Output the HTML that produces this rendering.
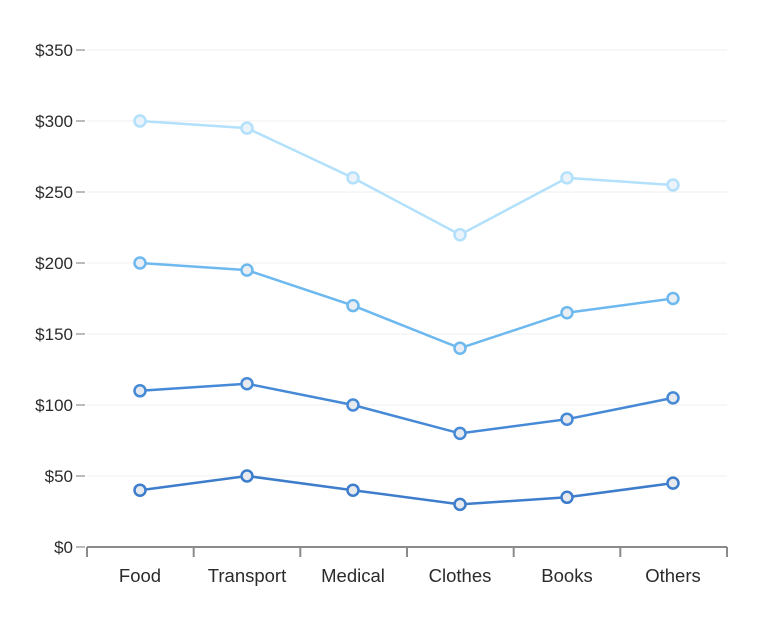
<!DOCTYPE html>
<html><head><meta charset="utf-8"><style>
html,body{margin:0;padding:0;background:#fff;}
svg text{font-family:"Liberation Sans",sans-serif;fill:#2b2b2b;}
</style></head><body>
<svg width="760" height="626" viewBox="0 0 760 626" xmlns="http://www.w3.org/2000/svg">
<g stroke="#efefef" stroke-width="1">
<line x1="87" y1="50" x2="727" y2="50"/>
<line x1="87" y1="121" x2="727" y2="121"/>
<line x1="87" y1="192" x2="727" y2="192"/>
<line x1="87" y1="263" x2="727" y2="263"/>
<line x1="87" y1="334" x2="727" y2="334"/>
<line x1="87" y1="405" x2="727" y2="405"/>
<line x1="87" y1="476" x2="727" y2="476"/>
</g>
<g stroke="#777" stroke-width="1">
<line x1="76" y1="50" x2="85" y2="50"/>
<line x1="76" y1="121" x2="85" y2="121"/>
<line x1="76" y1="192" x2="85" y2="192"/>
<line x1="76" y1="263" x2="85" y2="263"/>
<line x1="76" y1="334" x2="85" y2="334"/>
<line x1="76" y1="405" x2="85" y2="405"/>
<line x1="76" y1="476" x2="85" y2="476"/>
<line x1="76" y1="547" x2="85" y2="547"/>
</g>
<g font-size="17" text-anchor="end">
<text x="73" y="56">$350</text>
<text x="73" y="127">$300</text>
<text x="73" y="198">$250</text>
<text x="73" y="269">$200</text>
<text x="73" y="340">$150</text>
<text x="73" y="411">$100</text>
<text x="73" y="482">$50</text>
<text x="73" y="553">$0</text>
</g>
<g stroke="#8a8a8a" stroke-width="2">
<line x1="87" y1="547" x2="727" y2="547"/>
<line x1="87" y1="547" x2="87" y2="557"/>
<line x1="193.7" y1="547" x2="193.7" y2="557"/>
<line x1="300.3" y1="547" x2="300.3" y2="557"/>
<line x1="407" y1="547" x2="407" y2="557"/>
<line x1="513.7" y1="547" x2="513.7" y2="557"/>
<line x1="620.3" y1="547" x2="620.3" y2="557"/>
<line x1="727" y1="547" x2="727" y2="557"/>
</g>
<g font-size="18.5" text-anchor="middle">
<text x="140" y="582">Food</text>
<text x="247" y="582">Transport</text>
<text x="353" y="582">Medical</text>
<text x="460" y="582">Clothes</text>
<text x="567" y="582">Books</text>
<text x="673" y="582">Others</text>
</g>
<!-- series D -->
<g stroke="#b3e0fb" stroke-width="2.5" fill="none">
<polyline points="140,121 247,128.1 353,177.9 460,234.7 567,177.9 673,185"/>
</g>
<g stroke="#b3e0fb" stroke-width="2.5" fill="#eaf3fa">
<circle cx="140" cy="121" r="5.5"/><circle cx="247" cy="128.1" r="5.5"/><circle cx="353" cy="177.9" r="5.5"/><circle cx="460" cy="234.7" r="5.5"/><circle cx="567" cy="177.9" r="5.5"/><circle cx="673" cy="185" r="5.5"/>
</g>
<!-- series C -->
<g stroke="#6db9ef" stroke-width="2.5" fill="none">
<polyline points="140,263 247,270.1 353,305.6 460,348.2 567,312.7 673,298.5"/>
</g>
<g stroke="#6db9ef" stroke-width="2.5" fill="#e8eef4">
<circle cx="140" cy="263" r="5.5"/><circle cx="247" cy="270.1" r="5.5"/><circle cx="353" cy="305.6" r="5.5"/><circle cx="460" cy="348.2" r="5.5"/><circle cx="567" cy="312.7" r="5.5"/><circle cx="673" cy="298.5" r="5.5"/>
</g>
<!-- series B -->
<g stroke="#4689d6" stroke-width="2.5" fill="none">
<polyline points="140,390.8 247,383.7 353,405 460,433.4 567,419.2 673,397.9"/>
</g>
<g stroke="#4689d6" stroke-width="2.5" fill="#e6e9ee">
<circle cx="140" cy="390.8" r="5.5"/><circle cx="247" cy="383.7" r="5.5"/><circle cx="353" cy="405" r="5.5"/><circle cx="460" cy="433.4" r="5.5"/><circle cx="567" cy="419.2" r="5.5"/><circle cx="673" cy="397.9" r="5.5"/>
</g>
<!-- series A -->
<g stroke="#3d7dcb" stroke-width="2.5" fill="none">
<polyline points="140,490.2 247,476 353,490.2 460,504.4 567,497.3 673,483.1"/>
</g>
<g stroke="#3d7dcb" stroke-width="2.5" fill="#e6e9ee">
<circle cx="140" cy="490.2" r="5.5"/><circle cx="247" cy="476" r="5.5"/><circle cx="353" cy="490.2" r="5.5"/><circle cx="460" cy="504.4" r="5.5"/><circle cx="567" cy="497.3" r="5.5"/><circle cx="673" cy="483.1" r="5.5"/>
</g>
</svg>
</body></html>
